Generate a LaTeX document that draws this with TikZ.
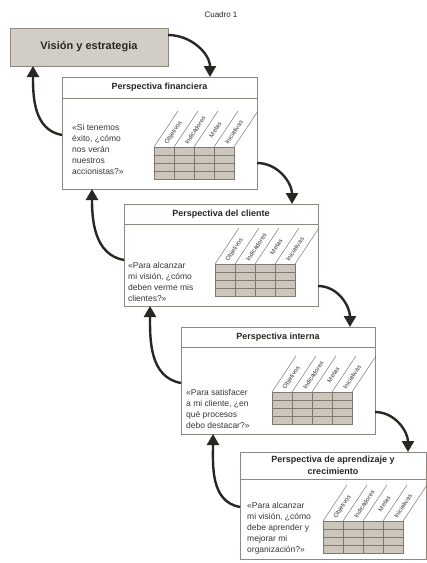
\documentclass[tikz,border=0pt]{standalone}
\usepackage{fontspec}
\setmainfont{Liberation Sans}
\usetikzlibrary{arrows.meta,calc}
\definecolor{ink}{HTML}{2A2622}
\definecolor{frame}{HTML}{8C8782}
\definecolor{gfill}{HTML}{CCC6BC}
\definecolor{gline}{HTML}{7E786F}
\definecolor{visfill}{HTML}{D2CEC6}
\definecolor{txt}{HTML}{3A3632}
\tikzset{
  pbox/.style={draw=frame, line width=0.7pt, fill=white, outer sep=0pt, inner sep=0pt, anchor=north west},
  visbox/.style={draw=frame, line width=0.9pt, fill=visfill, outer sep=0pt, inner sep=0pt, anchor=north west,
    font=\bfseries\fontsize{11}{13}\selectfont, text=ink},
  ptitle/.style={font=\bfseries\fontsize{9}{12.5}\selectfont, text=ink, align=center, inner sep=0pt},
  ptext/.style={font=\fontsize{8.5}{11}\selectfont, text=txt, align=left, inner sep=0pt, anchor=west},
  lab/.style={font=\fontsize{6.2}{6.5}\selectfont, text=txt, rotate=56.3, inner sep=0pt, anchor=west},
  hline/.style={draw=frame, line width=0.7pt},
  gl/.style={draw=gline, line width=0.45pt},
  arr/.style={draw=ink, line width=2.4pt, -{Triangle[width=12pt,length=11pt]}},
}
\newcommand\ptable[3]{%
  \fill[gfill] (#2,#3) rectangle ({#2+80},{#3+32});
  \foreach \j in {1,2,3} \draw[gl] (#2,{#3+8*\j}) -- ({#2+80},{#3+8*\j});
  \foreach \i in {1,2,3} \draw[gl] ({#2+20*\i},#3) -- ({#2+20*\i},{#3+32});
  \draw[gl, line width=0.6pt] (#2,#3) rectangle ({#2+80},{#3+32});
  \foreach \i in {0,...,4} \draw[gl] ({#2+20*\i},#3) -- ++(24,-36);
  \node[lab] (#1a) at ({#2+12.2},{#3-3.3}) {Objetivos};
  \node[lab] (#1b) at ({#2+32.2},{#3-3.3}) {Indicadores};
  \node[lab] (#1c) at ({#2+56.6},{#3-10}) {Metas};
  \node[lab] (#1d) at ({#2+72.2},{#3-3.3}) {Iniciativas};
}
\begin{document}
\begin{tikzpicture}[x=1pt, y=-1pt]
\useasboundingbox[fill=white] (0,0) rectangle (427,563);

\node[font=\fontsize{8}{9}\selectfont, text=ink] (cap) at (221,15) {Cuadro 1};

\node[visbox, minimum width=158pt, minimum height=38pt] (vis) at (10,28) {Visión y estrategia};

% Box 1
\begin{scope}[shift={(62,77)}]
  \node[pbox, minimum width=195pt, minimum height=112pt] (b1) at (0,0) {};
  \draw[hline] (0,21) -- (195,21);
  \node[ptitle] (b1t) at (97.5,10.5) {Perspectiva financiera};
  \node[ptext] (b1q) at (10,72) {«Si tenemos\\éxito, ¿cómo\\nos verán\\nuestros\\accionistas?»};
  \ptable{b1l}{92}{70}
\end{scope}

% Box 2
\begin{scope}[shift={(124,204)}]
  \node[pbox, minimum width=194pt, minimum height=102pt] (b2) at (0,0) {};
  \draw[hline] (0,20) -- (194,20);
  \node[ptitle] (b2t) at (97,10) {Perspectiva del cliente};
  \node[ptext] (b2q) at (4,78) {«Para alcanzar\\mi visión, ¿cómo\\deben verme mis\\clientes?»};
  \ptable{b2l}{91}{60}
\end{scope}

% Box 3
\begin{scope}[shift={(181,327)}]
  \node[pbox, minimum width=194pt, minimum height=107pt] (b3) at (0,0) {};
  \draw[hline] (0,20) -- (194,20);
  \node[ptitle] (b3t) at (97,10) {Perspectiva interna};
  \node[ptext] (b3q) at (5,82) {«Para satisfacer\\a mi cliente, ¿en\\qué procesos\\debo destacar?»};
  \ptable{b3l}{91}{65}
\end{scope}

% Box 4
\begin{scope}[shift={(240,452)}]
  \node[pbox, minimum width=186pt, minimum height=107pt] (b4) at (0,0) {};
  \draw[hline] (0,27) -- (186,27);
  \node[ptitle] (b4t) at (93,13.5) {Perspectiva de aprendizaje y\\crecimiento};
  \node[ptext] (b4q) at (7,76) {«Para alcanzar\\mi visión, ¿cómo\\debe aprender y\\mejorar mi\\organización?»};
  \ptable{b4l}{83}{69}
\end{scope}

% downward connectors (right side)
\draw[arr] ([yshift=-7pt]vis.north east) to[out=0,in=90] ([xshift=148pt]b1.north west);
\draw[arr] ([yshift=-86pt]b1.north east) to[out=0,in=90] ([xshift=168pt]b2.north west);
\draw[arr] ([yshift=-82pt]b2.north east) to[out=0,in=90] ([xshift=169pt]b3.north west);
\draw[arr] ([yshift=-85pt]b3.north east) to[out=0,in=90] ([xshift=168pt]b4.north west);

% upward connectors (left side)
\draw[arr] ([yshift=-58pt]b1.north west) to[out=170,in=-90] ([xshift=23pt]vis.south west);
\draw[arr] ([yshift=-56pt]b2.north west) to[out=170,in=-90] ([xshift=30pt]b1.south west);
\draw[arr] ([yshift=-56pt]b3.north west) to[out=170,in=-90] ([xshift=26pt]b2.south west);
\draw[arr] ([yshift=-55pt]b4.north west) to[out=170,in=-90] ([xshift=32pt]b3.south west);
\end{tikzpicture}
\end{document}
